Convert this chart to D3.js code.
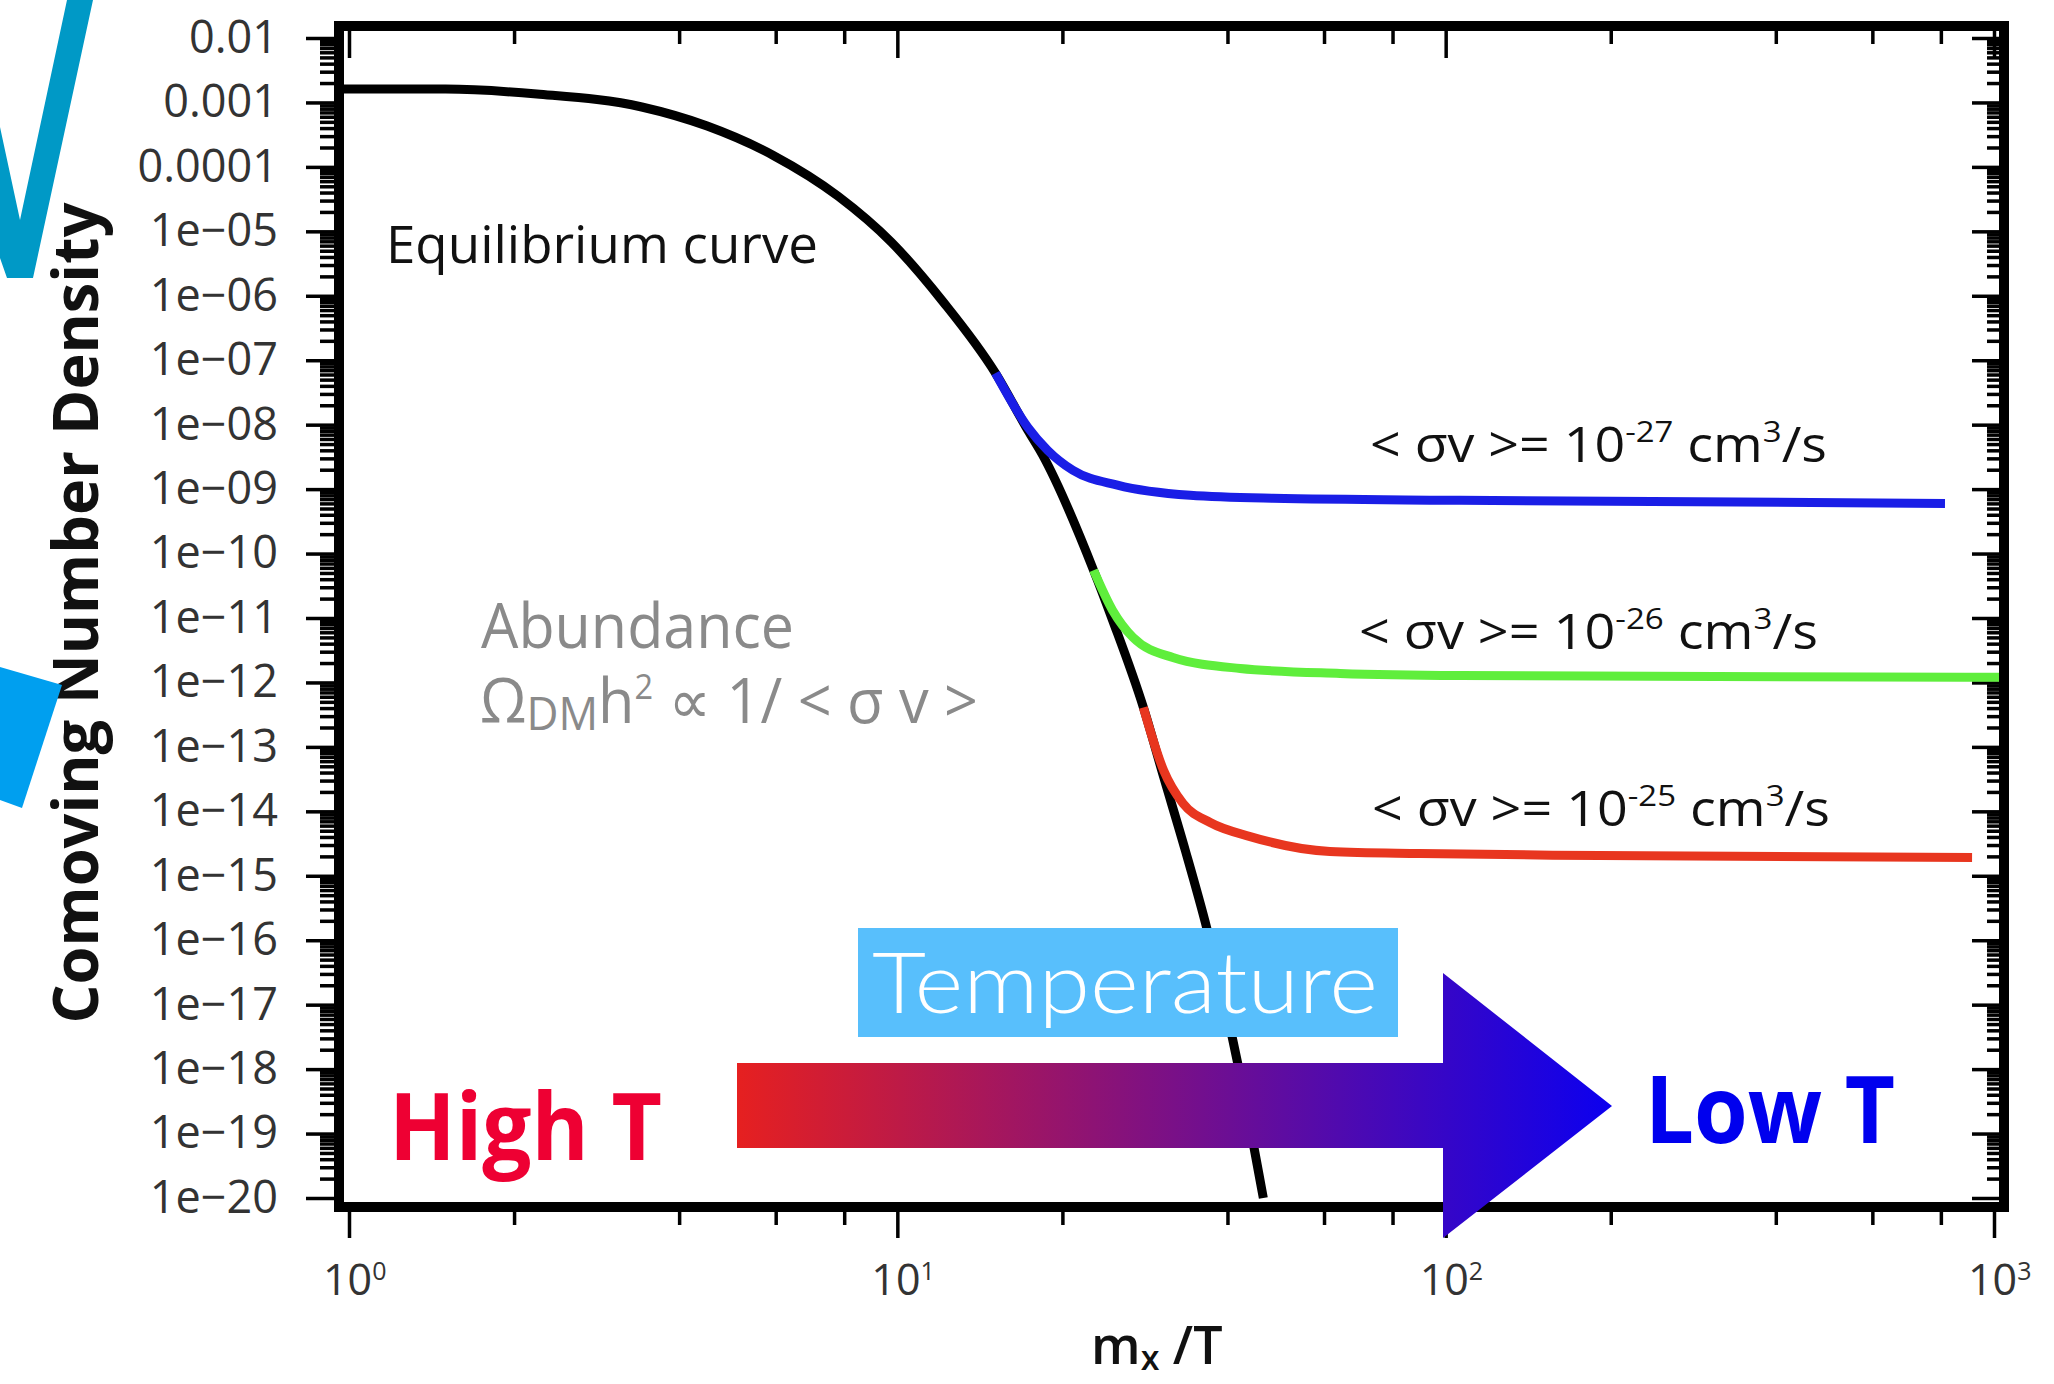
<!DOCTYPE html>
<html>
<head>
<meta charset="utf-8">
<script src="https://cdn.jsdelivr.net/npm/d3@7"></script>
<style>
  body { margin: 0; background: #fff; }
  svg { display: block; }
</style>
</head>
<body>
<div id="container"></div>
<script>
/* DATA */
// equilibrium curve
const mxT_eq = [0.955, 1.50, 2.20, 3.42, 4.50, 5.93, 7.80, 9.75, 12.1, 15.1, 17.3, 18.4, 22.8, 24.7, 28.1, 30.6, 33.5, 36.7, 41.7, 46.5];
const n_eq   = [1.61e-3, 1.61e-3, 1.35e-3, 8.5e-4, 4.3e-4, 1.52e-4, 3.5e-5, 6.8e-6, 8.2e-7, 6.3e-8, 8.2e-9, 3.4e-9, 5.5e-11, 9.2e-12, 4.1e-13, 3.4e-14, 2.5e-15, 1.5e-16, 1.3e-18, 1.0e-20];

// freeze-out curves
const mxT_27 = [15.1, 17.3, 18.8, 20.9, 25.2, 34.2, 48.4, 106, 814];
const n_27   = [6.3e-8, 9.1e-9, 4.0e-9, 1.96e-9, 1.15e-9, 8.0e-10, 7.2e-10, 6.7e-10, 6.0e-10];

const mxT_26 = [22.8, 24.7, 26.9, 31.8, 42.2, 64.2, 106, 1035];
const n_26   = [5.5e-11, 1.31e-11, 5.0e-12, 2.44e-12, 1.65e-12, 1.38e-12, 1.28e-12, 1.20e-12];

const mxT_25 = [28.1, 30.6, 33.2, 37.2, 44.0, 61.5, 89.8, 191, 912];
const n_25   = [4.1e-13, 4.3e-14, 1.32e-14, 6.7e-15, 4.06e-15, 2.38e-15, 2.21e-15, 2.06e-15, 1.92e-15];

// ticks
const yTickValues = [1e-2, 1e-3, 1e-4, 1e-5, 1e-6, 1e-7, 1e-8, 1e-9, 1e-10, 1e-11, 1e-12, 1e-13, 1e-14, 1e-15, 1e-16, 1e-17, 1e-18, 1e-19, 1e-20];
const yTickLabels = ["0.01", "0.001", "0.0001", "1e\u221205", "1e\u221206", "1e\u221207", "1e\u221208", "1e\u221209", "1e\u221210",
  "1e\u221211", "1e\u221212", "1e\u221213", "1e\u221214", "1e\u221215", "1e\u221216", "1e\u221217", "1e\u221218", "1e\u221219", "1e\u221220"];
const xTickValues = [1, 10, 100, 1000];
const xTickExponents = ["0", "1", "2", "3"];
const xMinorValues = [2, 4, 6, 8, 20, 40, 60, 80, 200, 400, 600, 800];

/* CONSTANTS AND GLOBALS */
const width = 2054, height = 1384;
const frame = { left: 339, top: 26, right: 2004, bottom: 1207 };
const font = "'Open Sans', 'DejaVu Sans', sans-serif";

const svg = d3.select("#container")
  .append("svg")
  .attr("width", width)
  .attr("height", height);

// + SCALES
const xScale = d3.scaleLog().domain([1, 1000]).range([349, 1994]);
const yScale = d3.scaleLog().domain([1e-20, 1e-2]).range([1198, 38]);

// minor ticks for the log y axis (2..9 inside each decade)
const yMinorValues = [];
yTickValues.forEach(d => {
  for (let k = 2; k <= 9; k++) {
    const v = d * k;
    if (yScale(v) > frame.top + 4) yMinorValues.push(v);
  }
});

// clip the curves to the inner frame
svg.append("clipPath").attr("id", "plot-clip")
  .append("rect")
  .attr("x", frame.left + 5)
  .attr("y", frame.top + 5)
  .attr("width", frame.right - frame.left - 10)
  .attr("height", frame.bottom - frame.top - 10);

// FRAME ----------------------------------------------
svg.append("rect")
  .attr("x", frame.left)
  .attr("y", frame.top)
  .attr("width", frame.right - frame.left)
  .attr("height", frame.bottom - frame.top)
  .attr("fill", "none")
  .attr("stroke", "#000")
  .attr("stroke-width", 10);

// AXIS TICKS ------------------------------------------
function cleanAxis(g) {
  g.select(".domain").remove();
  g.selectAll("line").attr("stroke", "#000").attr("stroke-width", 3.5);
}

// left, with labels
svg.append("g")
  .attr("transform", `translate(${frame.left - 5},0)`)
  .call(d3.axisLeft(yScale).tickValues(yTickValues).tickSize(28).tickPadding(28)
    .tickFormat((d, i) => yTickLabels[i]))
  .call(cleanAxis)
  .call(g => g.selectAll("text")
    .attr("fill", "#333")
    .style("font-family", font)
    .style("font-size", "45px"));

svg.append("g")
  .attr("transform", `translate(${frame.left - 5},0)`)
  .call(d3.axisLeft(yScale).tickValues(yMinorValues).tickSize(14).tickFormat(""))
  .call(cleanAxis);

// right, pointing inward
svg.append("g")
  .attr("transform", `translate(${frame.right - 5},0)`)
  .call(d3.axisLeft(yScale).tickValues(yTickValues).tickSize(27).tickFormat(""))
  .call(cleanAxis);

svg.append("g")
  .attr("transform", `translate(${frame.right - 5},0)`)
  .call(d3.axisLeft(yScale).tickValues(yMinorValues).tickSize(12).tickFormat(""))
  .call(cleanAxis);

// bottom, outward
svg.append("g")
  .attr("transform", `translate(0,${frame.bottom + 5})`)
  .call(d3.axisBottom(xScale).tickValues(xTickValues).tickSize(26).tickFormat(""))
  .call(cleanAxis);

svg.append("g")
  .attr("transform", `translate(0,${frame.bottom + 5})`)
  .call(d3.axisBottom(xScale).tickValues(xMinorValues).tickSize(13).tickFormat(""))
  .call(cleanAxis);

// top, inward
svg.append("g")
  .attr("transform", `translate(0,${frame.top + 5})`)
  .call(d3.axisBottom(xScale).tickValues(xTickValues).tickSize(27).tickFormat(""))
  .call(cleanAxis);

svg.append("g")
  .attr("transform", `translate(0,${frame.top + 5})`)
  .call(d3.axisBottom(xScale).tickValues(xMinorValues).tickSize(13).tickFormat(""))
  .call(cleanAxis);

// x tick labels 10^n
const xLabels = svg.selectAll(".x-label")
  .data(xTickValues)
  .join("text")
  .attr("class", "x-label")
  .attr("x", d => xScale(d) - 26)
  .attr("y", 1295)
  .attr("fill", "#333")
  .style("font-family", font)
  .style("font-size", "43px")
  .text("10");

xLabels.append("tspan")
  .attr("dy", -15)
  .style("font-size", "25px")
  .text((d, i) => xTickExponents[i]);

// AXIS LABELS ----------------------------------------
const xTitle = svg.append("text")
  .attr("x", 1091)
  .attr("y", 1364)
  .attr("fill", "#111")
  .style("font-family", font)
  .style("font-size", "52px")
  .style("font-weight", 600);
xTitle.append("tspan").text("m");
xTitle.append("tspan").attr("dy", 6).style("font-size", "34px").text("x");
xTitle.append("tspan").attr("dy", -6).text(" /T");

svg.append("text")
  .attr("transform", "translate(98,613) rotate(-90)")
  .attr("text-anchor", "middle")
  .attr("fill", "#111")
  .attr("textLength", 821)
  .attr("lengthAdjust", "spacingAndGlyphs")
  .style("font-family", font)
  .style("font-size", "63px")
  .style("font-weight", "bold")
  .text("Comoving Number Density");

// CURVES ---------------------------------------------
const line = d3.line()
  .x(d => xScale(d[0]))
  .y(d => yScale(d[1]))
  .curve(d3.curveMonotoneX);

const series = [
  { name: "equilibrium", x: mxT_eq, y: n_eq, color: "#000000" },
  { name: "sv27", x: mxT_27, y: n_27, color: "#1a1ee6" },
  { name: "sv26", x: mxT_26, y: n_26, color: "#5fee3c" },
  { name: "sv25", x: mxT_25, y: n_25, color: "#e8361f" }
];

svg.append("g")
  .attr("clip-path", "url(#plot-clip)")
  .selectAll("path")
  .data(series)
  .join("path")
  .attr("d", s => line(s.x.map((v, i) => [v, s.y[i]])))
  .attr("fill", "none")
  .attr("stroke", s => s.color)
  .attr("stroke-width", 9);

// ANNOTATIONS ----------------------------------------
svg.append("text")
  .attr("x", 386)
  .attr("y", 263)
  .attr("fill", "#111")
  .attr("textLength", 432)
  .attr("lengthAdjust", "spacingAndGlyphs")
  .style("font-family", font)
  .style("font-size", "51px")
  .text("Equilibrium curve");

// cross-section labels
const svLabels = [
  { exp: "-27", x: 1370, y: 462, w: 457 },
  { exp: "-26", x: 1359, y: 649, w: 459 },
  { exp: "-25", x: 1372, y: 826, w: 458 }
];

svLabels.forEach(l => {
  const t = svg.append("text")
    .attr("x", l.x)
    .attr("y", l.y)
    .attr("fill", "#111")
    .attr("textLength", l.w)
    .attr("lengthAdjust", "spacingAndGlyphs")
    .style("font-family", font)
    .style("font-size", "49px");
  t.append("tspan").text("< \u03c3v >= 10");
  t.append("tspan").attr("dy", -20).style("font-size", "30px").text(l.exp);
  t.append("tspan").attr("dy", 20).text(" cm");
  t.append("tspan").attr("dy", -20).style("font-size", "30px").text("3");
  t.append("tspan").attr("dy", 20).text("/s");
});

// abundance note
svg.append("text")
  .attr("x", 481)
  .attr("y", 648)
  .attr("fill", "#8a8a8a")
  .attr("textLength", 313)
  .attr("lengthAdjust", "spacingAndGlyphs")
  .style("font-family", font)
  .style("font-size", "62px")
  .text("Abundance");

const abund = svg.append("text")
  .attr("x", 480)
  .attr("y", 723)
  .attr("fill", "#8a8a8a")
  .attr("textLength", 498)
  .attr("lengthAdjust", "spacingAndGlyphs")
  .style("font-family", font)
  .style("font-size", "62px");
abund.append("tspan").text("\u03a9");
abund.append("tspan").attr("dy", 7).style("font-size", "46px").text("DM");
abund.append("tspan").attr("dy", -7).text("h");
abund.append("tspan").attr("dy", -24).style("font-size", "34px").text("2");
abund.append("tspan").attr("dy", 24).text(" \u221d 1/ < \u03c3 v >");

// TEMPERATURE ARROW ----------------------------------
const defs = svg.append("defs");
const grad = defs.append("linearGradient")
  .attr("id", "temp-grad")
  .attr("gradientUnits", "userSpaceOnUse")
  .attr("x1", 737).attr("x2", 1612)
  .attr("y1", 0).attr("y2", 0);
grad.append("stop").attr("offset", "0%").attr("stop-color", "#e62020");
grad.append("stop").attr("offset", "100%").attr("stop-color", "#0c00ef");

const arrow = [[737, 1063], [1443, 1063], [1443, 973], [1612, 1106], [1443, 1238], [1443, 1148], [737, 1148]];
svg.append("polygon")
  .attr("points", arrow.map(p => p.join(",")).join(" "))
  .attr("fill", "url(#temp-grad)");

svg.append("rect")
  .attr("x", 858)
  .attr("y", 928)
  .attr("width", 540)
  .attr("height", 109)
  .attr("fill", "#58bffc");

svg.append("text")
  .attr("x", 872)
  .attr("y", 1013)
  .attr("fill", "#fff")
  .attr("textLength", 506)
  .attr("lengthAdjust", "spacingAndGlyphs")
  .style("font-family", "Lato, 'Open Sans', sans-serif")
  .style("font-size", "84px")
  .style("font-weight", 300)
  .text("Temperature");

svg.append("text")
  .attr("x", 389)
  .attr("y", 1160)
  .attr("fill", "#ee0033")
  .attr("textLength", 273)
  .attr("lengthAdjust", "spacingAndGlyphs")
  .style("font-family", font)
  .style("font-size", "94px")
  .style("font-weight", "bold")
  .text("High T");

svg.append("text")
  .attr("x", 1645)
  .attr("y", 1143)
  .attr("fill", "#0000ee")
  .attr("textLength", 250)
  .attr("lengthAdjust", "spacingAndGlyphs")
  .style("font-family", font)
  .style("font-size", "94px")
  .style("font-weight", "bold")
  .text("Low T");

// SLIDE DECORATIONS AT THE LEFT EDGE ----------------
const vShape = [[0, 127], [20, 220], [67, 0], [93, 0], [33, 278], [7, 278], [0, 258]];
svg.append("polygon")
  .attr("points", vShape.map(p => p.join(",")).join(" "))
  .attr("fill", "#0099c6");

const block = [[0, 667], [62, 685], [22, 808], [0, 800]];
svg.append("polygon")
  .attr("points", block.map(p => p.join(",")).join(" "))
  .attr("fill", "#009fef");
</script>
</body>
</html>
